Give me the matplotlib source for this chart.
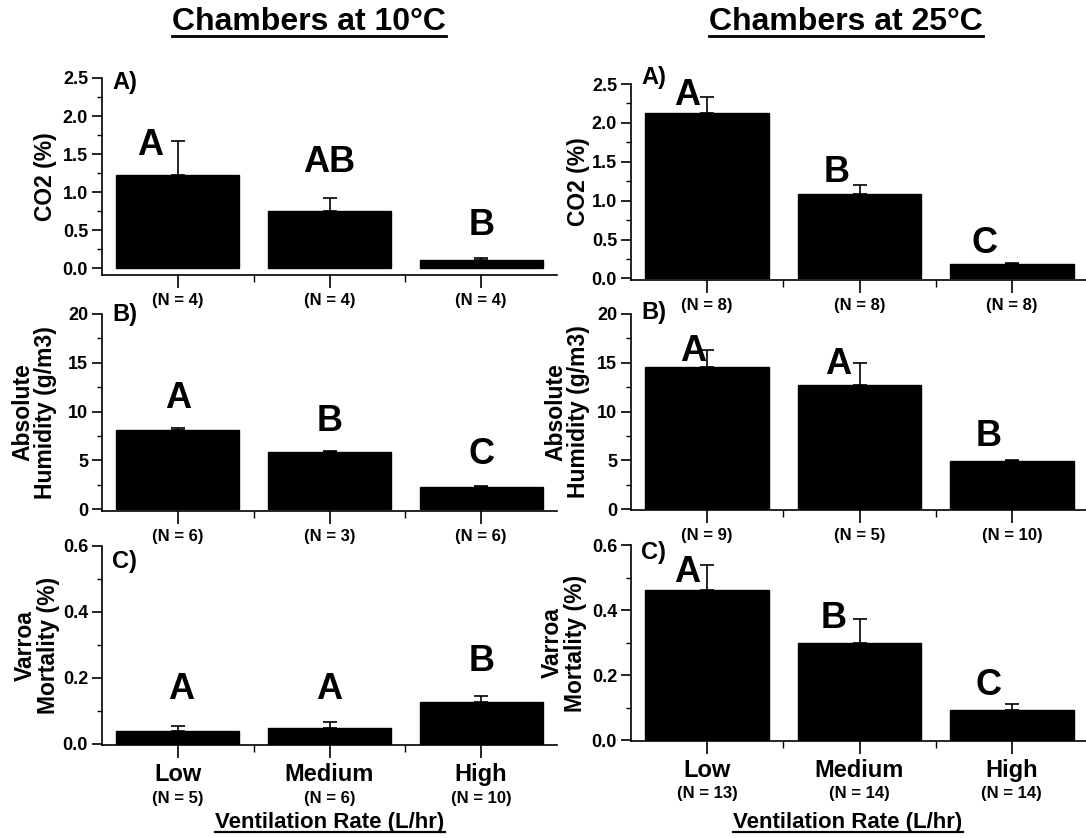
import matplotlib
matplotlib.use("Agg")
import matplotlib.pyplot as plt
from matplotlib.lines import Line2D
from matplotlib.ticker import MultipleLocator
import matplotlib.transforms as mtransforms

plt.rcParams['font.family'] = ['Liberation Sans', 'DejaVu Sans']
plt.rcParams['font.weight'] = 'bold'

rates = ["Low", "Medium", "High"]

# 10 C chambers
co2_10 = [1.22, 0.75, 0.11]
co2_10_err = [0.45, 0.17, 0.02]
co2_10_n = [4, 4, 4]
co2_10_let = ["A", "AB", "B"]

hum_10 = [8.1, 5.85, 2.29]
hum_10_err = [0.26, 0.13, 0.07]
hum_10_n = [6, 3, 6]
hum_10_let = ["A", "B", "C"]

mort_10 = [0.037, 0.049, 0.125]
mort_10_err = [0.018, 0.017, 0.02]
mort_10_n = [5, 6, 10]
mort_10_let = ["A", "A", "B"]

# 25 C chambers
co2_25 = [2.13, 1.08, 0.19]
co2_25_err = [0.2, 0.12, 0.01]
co2_25_n = [8, 8, 8]
co2_25_let = ["A", "B", "C"]

hum_25 = [14.6, 12.77, 4.95]
hum_25_err = [1.75, 2.2, 0.08]
hum_25_n = [9, 5, 10]
hum_25_let = ["A", "A", "B"]

mort_25 = [0.463, 0.299, 0.093]
mort_25_err = [0.075, 0.072, 0.017]
mort_25_n = [13, 14, 14]
mort_25_let = ["A", "B", "C"]

W, H = 1086, 838
fig = plt.figure(figsize=(W / 100, H / 100), dpi=100)


def px_axes(x0, y0, x1, y1):
    return fig.add_axes([x0 / W, 1 - y1 / H, (x1 - x0) / W, (y1 - y0) / H])


def panel(ax, vals, errs, ns, lets, let_pos, ymin, ymax, major, minor,
          ylabel, ylab_x, tag, tag_y, bottom):
    x = range(len(vals))
    ax.bar(x, vals, width=0.81, color='black', edgecolor='black', zorder=2)
    ax.errorbar(x, vals, yerr=[[0] * len(vals), errs], fmt='none', ecolor='black',
                elinewidth=1.2, capsize=5, capthick=1.2, zorder=3)
    ax.set_xlim(-0.5, 2.5)
    ax.set_ylim(ymin, ymax)
    for s in ['top', 'right']:
        ax.spines[s].set_visible(False)
    ax.spines['left'].set_linewidth(1.2)
    ax.spines['bottom'].set_linewidth(1.2)
    ax.yaxis.set_major_locator(MultipleLocator(major))
    ax.yaxis.set_minor_locator(MultipleLocator(minor))
    ax.set_xticks([0, 1, 2])
    ax.set_xticks([0.5, 1.5], minor=True)
    ax.tick_params(axis='y', which='major', length=7, width=1.2, labelsize=13, pad=3)
    ax.tick_params(axis='y', which='minor', length=3.5, width=1)
    ax.tick_params(axis='x', which='major', length=9, width=1.2, pad=4)
    ax.tick_params(axis='x', which='minor', length=5, width=1)
    ax.set_ylabel(ylabel, fontsize=16.5, fontweight='bold', linespacing=1.0)
    ax.yaxis.set_label_coords(ylab_x, 0.5)
    ax.yaxis.label.set_verticalalignment('center')
    trans = mtransforms.blended_transform_factory(ax.transData, ax.transAxes)
    if bottom:
        ax.set_xticklabels(rates, fontsize=17, fontweight='bold')
        for i, n in enumerate(ns):
            ax.text(i, -0.27, "(N = %d)" % n, transform=trans, ha='center', va='center',
                    fontsize=12, fontweight='bold')
    else:
        ax.set_xticklabels(["(N = %d)" % n for n in ns], fontsize=12, fontweight='bold')
    for i, (l, (dx, ly)) in enumerate(zip(lets, let_pos)):
        ax.text(i + dx, ly, l, ha='center', va='center', fontsize=26, fontweight='bold')
    ax.text(0.022, tag_y, tag, transform=ax.transAxes, ha='left', va='center',
            fontsize=17, fontweight='bold')


# left column
a1 = px_axes(102, 78, 557, 275)
panel(a1, co2_10, co2_10_err, co2_10_n, co2_10_let,
      [(-0.18, 1.61), (0.0, 1.39), (0.0, 0.56)],
      -0.09, 2.5, 0.5, 0.25, "CO2 (%)", -0.125, "A)", 0.975, False)
a2 = px_axes(102, 314, 557, 511)
panel(a2, hum_10, hum_10_err, hum_10_n, hum_10_let,
      [(0.0, 11.3), (0.0, 9.0), (0.0, 5.6)],
      -0.2, 20, 5, 2.5, "Absolute\nHumidity (g/m3)", -0.149, "B)", 1.0, False)
a3 = px_axes(102, 546, 557, 745)
panel(a3, mort_10, mort_10_err, mort_10_n, mort_10_let,
      [(0.02, 0.163), (0.0, 0.163), (0.0, 0.25)],
      -0.004, 0.6, 0.2, 0.1, "Varroa\nMortality (%)", -0.143, "C)", 0.92, True)

# right column
b1 = px_axes(631, 84, 1088, 280)
panel(b1, co2_25, co2_25_err, co2_25_n, co2_25_let,
      [(-0.13, 2.35), (-0.15, 1.36), (-0.18, 0.45)],
      -0.02, 2.5, 0.5, 0.25, "CO2 (%)", -0.114, "A)", 1.035, False)
b2 = px_axes(631, 314, 1088, 510)
panel(b2, hum_25, hum_25_err, hum_25_n, hum_25_let,
      [(-0.09, 16.2), (-0.14, 14.8), (-0.15, 7.4)],
      -0.1, 20, 5, 2.5, "Absolute\nHumidity (g/m3)", -0.14, "B)", 1.01, False)
b3 = px_axes(631, 545, 1088, 741)
panel(b3, mort_25, mort_25_err, mort_25_n, mort_25_let,
      [(-0.13, 0.515), (-0.17, 0.374), (-0.15, 0.169)],
      -0.003, 0.6, 0.2, 0.1, "Varroa\nMortality (%)", -0.147, "C)", 0.96, True)

# underlined headings
headings = [
    (309, 22, "Chambers at 10°C", 23),
    (846, 22, "Chambers at 25°C", 23),
    (330, 822, "Ventilation Rate (L/hr)", 16),
    (848, 822, "Ventilation Rate (L/hr)", 16),
]
renderer = fig.canvas.get_renderer()
for hx, hy, txt, fs in headings:
    t = fig.text(hx / W, 1 - hy / H, txt, ha='center', va='center', fontsize=fs,
                 fontweight='bold')
    bb = t.get_window_extent(renderer=renderer)
    uy = bb.y0 + 1
    fig.add_artist(Line2D([bb.x0 / W, bb.x1 / W], [uy / H, uy / H], color='black',
                          linewidth=2.0 if fs > 18 else 1.6, transform=fig.transFigure))

fig.savefig("out.png", dpi=100)
